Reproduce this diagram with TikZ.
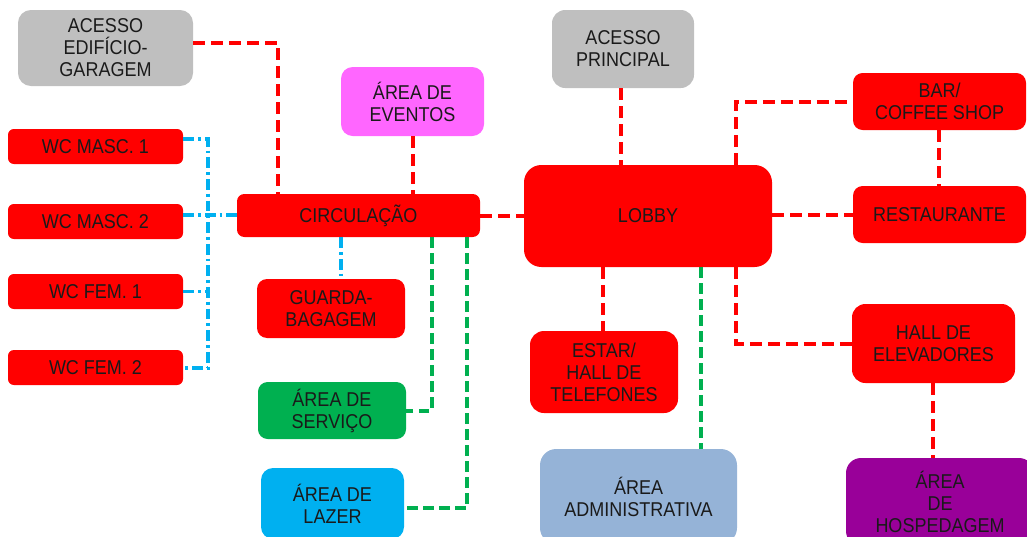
\documentclass[tikz,border=0pt]{standalone}
\usepackage{fontspec}
\setmainfont{Liberation Sans}
\newfontfamily\labelfont[FakeStretch=0.9]{Liberation Sans}
\usetikzlibrary{calc}

\definecolor{cred}{HTML}{FF0000}
\definecolor{cgray}{HTML}{BFBFBF}
\definecolor{cpink}{HTML}{FF66FF}
\definecolor{cgreen}{HTML}{00B050}
\definecolor{cblue}{HTML}{00B0F0}
\definecolor{cadmin}{HTML}{95B3D7}
\definecolor{cpurple}{HTML}{990099}
\definecolor{ctext}{HTML}{1A1A1A}

\tikzset{
  box/.style={draw=none, inner sep=0pt, align=center, text=ctext,
    font=\labelfont\fontsize{15pt}{16.5pt}\selectfont},
  reddash/.style={draw=cred, line width=3pt, dash pattern=on 9pt off 4.5pt},
  greendash/.style={draw=cgreen, line width=3pt, dash pattern=on 8pt off 4pt},
  bluedashdot/.style={draw=cblue, line width=2.7pt, dash pattern=on 8pt off 3pt on 2.2pt off 3pt},
}

% \roombox{name}{x1}{y1}{x2}{y2}{fill}{label}: rounded box given by its pixel corners
\newcommand\roombox[7]{%
  \pgfmathsetmacro\rbcx{(#2+#4)/2}%
  \pgfmathsetmacro\rbcy{(#3+#5)/2}%
  \pgfmathsetmacro\rbw{(#4-#2)*0.75}%
  \pgfmathsetmacro\rbh{(#5-#3)*0.75}%
  \pgfmathsetmacro\rbr{min(\rbw,\rbh)*0.17}%
  \node[box, fill=#6, minimum width=\rbw pt, minimum height=\rbh pt,
        rounded corners=\rbr pt] (#1) at (\rbcx,\rbcy) {#7};%
}

\begin{document}
\begin{tikzpicture}[x=0.75pt, y=-0.75pt]
\useasboundingbox (0,0) rectangle (1027,536);

% rooms
\roombox{acg}{18}{10}{193}{86}{cgray}{ACESSO\\EDIFÍCIO-\\GARAGEM}
\roombox{wcm1}{8}{129}{183}{164}{cred}{WC MASC. 1}
\roombox{wcm2}{8}{204}{183}{239}{cred}{WC MASC. 2}
\roombox{wcf1}{8}{274}{183}{309}{cred}{WC FEM. 1}
\roombox{wcf2}{8}{350}{183}{385}{cred}{WC FEM. 2}
\roombox{eventos}{341}{67}{484}{136}{cpink}{ÁREA DE\\EVENTOS}
\roombox{circ}{237}{194}{480}{237}{cred}{CIRCULAÇÃO}
\roombox{guarda}{257}{279}{405}{338}{cred}{GUARDA-\\BAGAGEM}
\roombox{servico}{258}{382}{406}{439}{cgreen}{ÁREA DE\\SERVIÇO}
\roombox{lazer}{261}{468}{404}{539}{cblue}{ÁREA DE\\LAZER}
\roombox{acp}{552}{10}{694}{88}{cgray}{ACESSO\\PRINCIPAL}
\roombox{lobby}{524}{165}{772}{267}{cred}{LOBBY}
\roombox{estar}{530}{331}{678}{413}{cred}{ESTAR/\\HALL DE\\TELEFONES}
\roombox{admin}{540}{449}{737}{544}{cadmin}{ÁREA\\ADMINISTRATIVA}
\roombox{bar}{853}{73}{1026}{130}{cred}{BAR/\\COFFEE SHOP}
\roombox{rest}{853}{186}{1026}{243}{cred}{RESTAURANTE}
\roombox{hall}{852}{304}{1015}{383}{cred}{HALL DE\\ELEVADORES}
\roombox{hosp}{846}{458}{1034}{546}{cpurple}{ÁREA\\DE\\HOSPEDAGEM}

% bus joining the toilets
\coordinate (bustop) at (208,139);
\coordinate (busbot) at (208,368);

% red links
\draw[reddash] (acg.east |- 0,43) -| (circ.north -| 278,0);
\draw[reddash] (eventos.south -| 413,0) -- (circ.north -| 413,0);
\draw[reddash] (circ.east) -- (circ.east -| lobby.west);
\draw[reddash] (acp.south -| 621,0) -- (lobby.north -| 621,0);
\draw[reddash] (lobby.north -| 736,0) |- (bar.west);
\draw[reddash] (bar.south -| 939,0) -- (rest.north -| 939,0);
\draw[reddash] (rest.west -| lobby.east) -- (rest.west);
\draw[reddash] (lobby.south -| 603,0) -- (estar.north -| 603,0);
\draw[reddash] (lobby.south -| 736,0) |- (hall.west);
\draw[reddash] (hall.south -| 933,0) -- (hosp.north -| 933,0);

% green links
\draw[greendash] (circ.south -| 432,0) |- (servico.east);
\draw[greendash] (circ.south -| 467,0) |- (lazer.east |- 0,508);
\draw[greendash] (lobby.south -| 701,0) -- (admin.north -| 701,0);

% blue links
\draw[bluedashdot] (circ.south -| 341,0) -- (guarda.north -| 341,0);
\draw[bluedashdot] (wcm1.east |- bustop) -- (bustop) -- (busbot) -- (wcf2.east |- busbot);
\draw[bluedashdot] (wcm2.east |- 0,215) -- (circ.west |- 0,215);
\draw[bluedashdot] (wcf1.east) -- (wcf1.east -| bustop);
\end{tikzpicture}
\end{document}
